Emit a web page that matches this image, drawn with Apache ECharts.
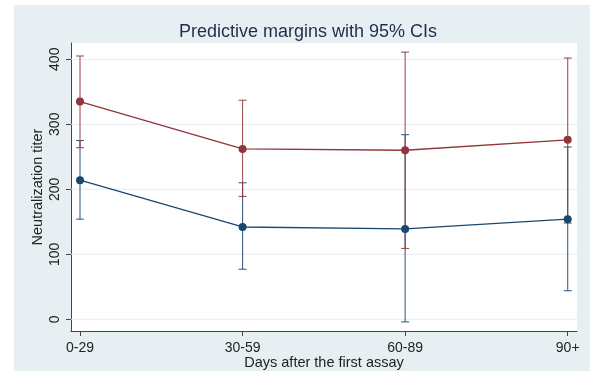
<!DOCTYPE html>
<html>
<head>
<meta charset="utf-8">
<script src="https://cdn.jsdelivr.net/npm/echarts@6/dist/echarts.min.js"></script>
<style>
html,body{margin:0;padding:0;background:#ffffff;}
#chart{width:590px;height:371px;}
</style>
</head>
<body>
<div id="chart"></div>
<script>
var categories = ['0-29', '30-59', '60-89', '90+'];
var yTicks = [0, 100, 200, 300, 400];

var redMargin = [335, 262, 260, 276];
var redLower  = [264, 189, 109, 148];
var redUpper  = [405, 337, 411, 402];

var blueMargin = [214, 142, 139, 154];
var blueLower  = [154, 77, -4, 44];
var blueUpper  = [275, 210, 284, 265];

var RED = '#90353b';
var BLUE = '#1a476f';
var FONT = '"Liberation Sans", Arial, sans-serif';

function pts(vals) { return vals.map(function (v, i) { return [i, v]; }); }
function ci(lo, hi) { return lo.map(function (v, i) { return [i, v, hi[i]]; }); }

function errorBar(color) {
  return function (params, api) {
    var x = api.value(0);
    var p1 = api.coord([x, api.value(1)]);
    var p2 = api.coord([x, api.value(2)]);
    var w = 4;
    var st = { stroke: color, lineWidth: 1.1, opacity: 0.85 };
    return {
      type: 'group',
      children: [
        { type: 'line', shape: { x1: p1[0], y1: p1[1], x2: p2[0], y2: p2[1] }, style: st },
        { type: 'line', shape: { x1: p1[0] - w, y1: p1[1], x2: p1[0] + w, y2: p1[1] }, style: st },
        { type: 'line', shape: { x1: p2[0] - w, y1: p2[1], x2: p2[0] + w, y2: p2[1] }, style: st }
      ]
    };
  };
}

function gridLine(params, api) {
  var cs = params.coordSys;
  var y = api.coord([0, api.value(0)])[1];
  return {
    type: 'line',
    shape: { x1: cs.x, y1: y, x2: cs.x + cs.width, y2: y },
    style: { stroke: '#e6eef1', lineWidth: 1 }
  };
}

var chart = echarts.init(document.getElementById('chart'), null, { renderer: 'canvas' });
chart.setOption({
  animation: false,
  backgroundColor: '#ffffff',
  graphic: [{
    type: 'rect', z: -10, silent: true,
    shape: { x: 14, y: 5, width: 590 - 14, height: 371 - 5 },
    style: { fill: '#e8eff2' }
  }],
  title: {
    text: 'Predictive margins with 95% CIs',
    left: 303, top: 18, textAlign: 'center',
    textStyle: { fontFamily: FONT, fontSize: 18, fontWeight: 'normal', color: '#1f2d4d' }
  },
  grid: {
    left: 71, top: 43, right: 13, bottom: 40,
    outerBoundsMode: 'none', containLabel: false,
    show: true, backgroundColor: '#ffffff', borderWidth: 0
  },
  xAxis: {
    type: 'value', min: -0.0554, max: 3.0572,
    name: 'Days after the first assay', nameLocation: 'middle', nameGap: 24,
    nameMoveOverlap: false,
    nameTextStyle: { fontFamily: FONT, fontSize: 14.5, color: '#222' },
    axisLine: { show: true, onZero: false, lineStyle: { color: '#444', width: 1 } },
    axisTick: { show: true, length: 5, lineStyle: { color: '#444' }, customValues: [0, 1, 2, 3] },
    axisLabel: {
      fontFamily: FONT, fontSize: 14, color: '#222', margin: 10,
      customValues: [0, 1, 2, 3],
      formatter: function (v) { return categories[Math.round(v)]; }
    },
    splitLine: { show: false }
  },
  yAxis: {
    type: 'value', min: -18, max: 425,
    name: 'Neutralization titer', nameLocation: 'middle', nameGap: 26, nameRotate: 90,
    nameMoveOverlap: false,
    nameTextStyle: { fontFamily: FONT, fontSize: 14.5, color: '#222' },
    axisLine: { show: true, onZero: false, lineStyle: { color: '#444', width: 1 } },
    axisTick: { show: true, length: 5, lineStyle: { color: '#444' }, customValues: yTicks },
    axisLabel: {
      fontFamily: FONT, fontSize: 14, color: '#222', margin: 9, rotate: 90,
      customValues: yTicks
    },
    splitLine: { show: false }
  },
  series: [
    {
      type: 'custom', z: 1, silent: true, renderItem: gridLine,
      encode: { y: 0 }, data: yTicks.map(function (v) { return [v]; })
    },
    {
      type: 'custom', z: 2, renderItem: errorBar(BLUE),
      encode: { x: 0, y: [1, 2] }, data: ci(blueLower, blueUpper)
    },
    {
      type: 'custom', z: 3, renderItem: errorBar(RED),
      encode: { x: 0, y: [1, 2] }, data: ci(redLower, redUpper)
    },
    {
      type: 'line', z: 4, data: pts(blueMargin), symbol: 'circle', symbolSize: 8,
      lineStyle: { color: BLUE, width: 1.3 }, itemStyle: { color: BLUE }
    },
    {
      type: 'line', z: 5, data: pts(redMargin), symbol: 'circle', symbolSize: 8,
      lineStyle: { color: RED, width: 1.3 }, itemStyle: { color: RED }
    }
  ]
});
</script>
</body>
</html>
